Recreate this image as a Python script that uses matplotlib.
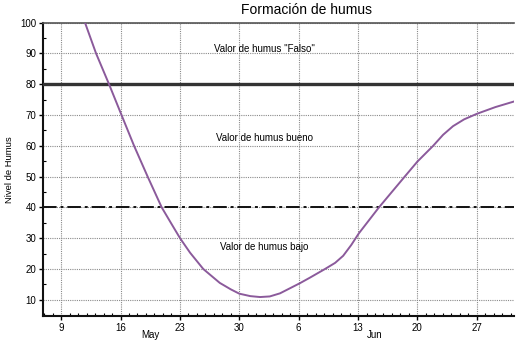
import matplotlib
matplotlib.use("Agg")
import matplotlib.pyplot as plt
from matplotlib.ticker import MultipleLocator, FixedLocator
import matplotlib.transforms as mtransforms

plt.rcParams["font.family"] = ["Liberation Sans", "DejaVu Sans"]

# x = day counted from 30 April (May d -> d, June d -> 31 + d)
day = [11.75, 13.12, 14.65, 16.12, 17.6, 19.2, 20.86, 22.0, 23.02, 24.2,
       25.76, 27.7, 29.0, 30.0, 31.3, 32.45, 33.6, 34.8, 37.15, 38.33,
       40.1, 41.3, 42.25, 43.2, 44.1, 46.46, 49.5, 51.0, 52.85, 54.03,
       55.2, 56.5, 58.0, 60.2, 62.5]
humus = [100.5, 90, 80, 70, 60, 50, 40, 34.7, 30, 25.3,
         20, 15.5, 13.4, 12.0, 11.2, 10.9, 11.1, 12.1, 15.4, 17.2,
         20, 22.0, 24.3, 27.8, 31.6, 40, 50, 54.9, 60, 63.6,
         66.4, 68.6, 70.4, 72.6, 74.5]

tick_days = [9, 16, 23, 30, 37, 44, 51, 58]
tick_labels = ["9", "16", "23", "30", "6", "13", "20", "27"]
months = [("May", 19.5), ("Jun", 46.0)]

zones = [('Valor de humus "Falso"', 91.5),
         ("Valor de humus bueno", 62.7),
         ("Valor de humus bajo", 27.0)]

fig = plt.figure(figsize=(5.2, 3.44), dpi=100)
ax = fig.add_axes([0.083, 0.081, 0.905, 0.853])

ax.set_xlim(6.88, 62.36)
ax.set_ylim(4.7, 100)

ax.grid(True, which="major", color="#8a8a8a", linestyle=(0, (1, 1)), linewidth=0.8)
ax.axhline(80, color="#333333", linewidth=2.4, zorder=3)
ax.axhline(40, color="#111111", linewidth=1.4, linestyle=(0, (7, 2, 1.5, 2)), zorder=3)

ax.plot(day, humus, color="#8b5a9b", linewidth=1.4, zorder=4)

ax.xaxis.set_major_locator(FixedLocator(tick_days))
ax.set_xticklabels(tick_labels)
ax.xaxis.set_minor_locator(MultipleLocator(1))
ax.yaxis.set_major_locator(MultipleLocator(10))
ax.yaxis.set_minor_locator(MultipleLocator(5))
ax.tick_params(which="major", direction="out", length=3, width=1, labelsize=7, pad=2)
ax.tick_params(which="minor", direction="in", length=2.5, width=0.8)

for side in ["left", "bottom"]:
    ax.spines[side].set_linewidth(1.5)
    ax.spines[side].set_color("#111111")
ax.spines["right"].set_visible(False)
ax.spines["top"].set_color("#555555")
ax.spines["top"].set_linewidth(1.2)

trans = mtransforms.blended_transform_factory(ax.transData, fig.transFigure)
for name, pos in months:
    ax.text(pos, 0.025, name, transform=trans, ha="center", va="center", fontsize=7)

for text, yv in zones:
    ax.text(0.47, yv, text, transform=mtransforms.blended_transform_factory(ax.transAxes, ax.transData),
            ha="center", va="center", fontsize=7)

ax.set_ylabel("Nivel de Humus", fontsize=6.8)
ax.yaxis.set_label_coords(-0.061, 0.5)
fig.text(0.59, 0.972, "Formación de humus", ha="center", va="center", fontsize=10)

fig.savefig("out.png", dpi=100, facecolor="white")
